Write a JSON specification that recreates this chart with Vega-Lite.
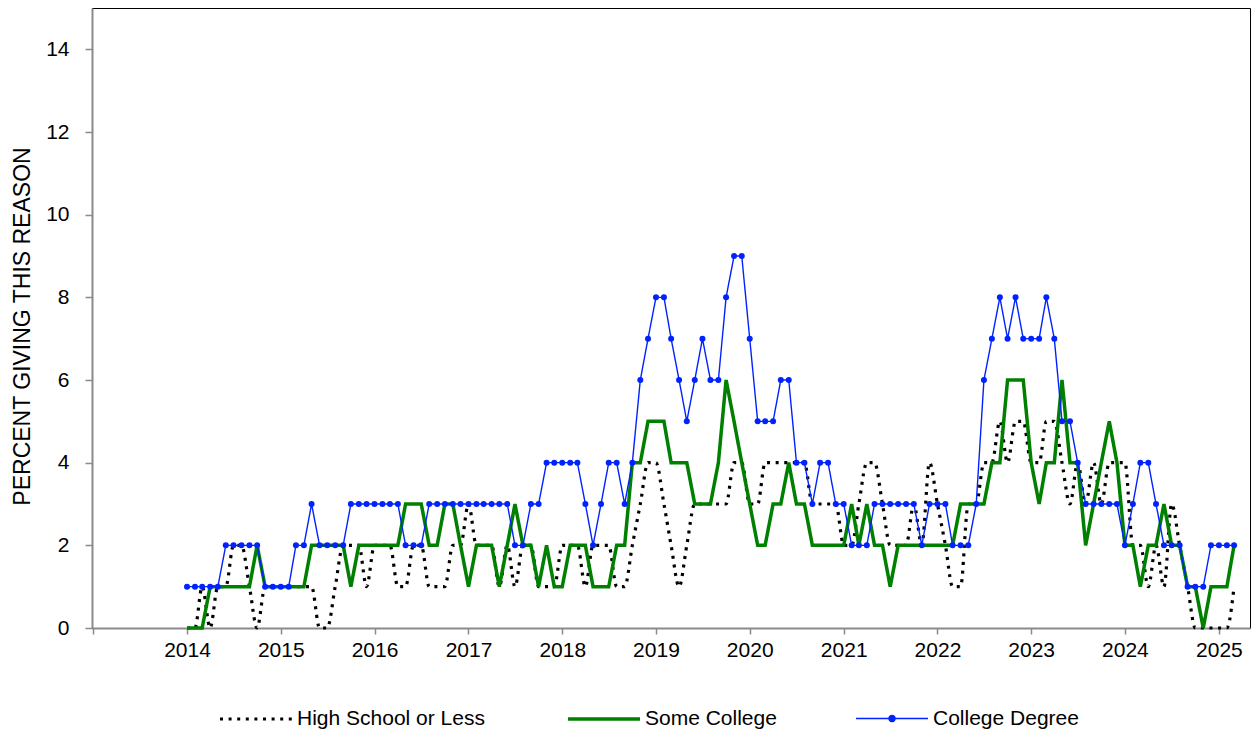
{
  "$schema": "https://vega.github.io/schema/vega-lite/v6.json",
  "width": 1158,
  "height": 620,
  "autosize": {"type": "none"},
  "padding": {"left": 92, "top": 8, "right": 6, "bottom": 104},
  "background": "white",
  "data": {"values": [
    {"d":"2014-01","hs":0,"sc":0,"cd":1},{"d":"2014-02","hs":0,"sc":0,"cd":1},{"d":"2014-03","hs":1,"sc":0,"cd":1},{"d":"2014-04","hs":0,"sc":1,"cd":1},
    {"d":"2014-05","hs":1,"sc":1,"cd":1},{"d":"2014-06","hs":1,"sc":1,"cd":2},{"d":"2014-07","hs":2,"sc":1,"cd":2},{"d":"2014-08","hs":2,"sc":1,"cd":2},
    {"d":"2014-09","hs":1,"sc":1,"cd":2},{"d":"2014-10","hs":0,"sc":2,"cd":2},{"d":"2014-11","hs":1,"sc":1,"cd":1},{"d":"2014-12","hs":1,"sc":1,"cd":1},
    {"d":"2015-01","hs":1,"sc":1,"cd":1},{"d":"2015-02","hs":1,"sc":1,"cd":1},{"d":"2015-03","hs":1,"sc":1,"cd":2},{"d":"2015-04","hs":1,"sc":1,"cd":2},
    {"d":"2015-05","hs":1,"sc":2,"cd":3},{"d":"2015-06","hs":0,"sc":2,"cd":2},{"d":"2015-07","hs":0,"sc":2,"cd":2},{"d":"2015-08","hs":1,"sc":2,"cd":2},
    {"d":"2015-09","hs":2,"sc":2,"cd":2},{"d":"2015-10","hs":2,"sc":1,"cd":3},{"d":"2015-11","hs":2,"sc":2,"cd":3},{"d":"2015-12","hs":1,"sc":2,"cd":3},
    {"d":"2016-01","hs":2,"sc":2,"cd":3},{"d":"2016-02","hs":2,"sc":2,"cd":3},{"d":"2016-03","hs":2,"sc":2,"cd":3},{"d":"2016-04","hs":1,"sc":2,"cd":3},
    {"d":"2016-05","hs":1,"sc":3,"cd":2},{"d":"2016-06","hs":2,"sc":3,"cd":2},{"d":"2016-07","hs":2,"sc":3,"cd":2},{"d":"2016-08","hs":1,"sc":2,"cd":3},
    {"d":"2016-09","hs":1,"sc":2,"cd":3},{"d":"2016-10","hs":1,"sc":3,"cd":3},{"d":"2016-11","hs":2,"sc":3,"cd":3},{"d":"2016-12","hs":2,"sc":2,"cd":3},
    {"d":"2017-01","hs":3,"sc":1,"cd":3},{"d":"2017-02","hs":2,"sc":2,"cd":3},{"d":"2017-03","hs":2,"sc":2,"cd":3},{"d":"2017-04","hs":2,"sc":2,"cd":3},
    {"d":"2017-05","hs":1,"sc":1,"cd":3},{"d":"2017-06","hs":2,"sc":2,"cd":3},{"d":"2017-07","hs":1,"sc":3,"cd":2},{"d":"2017-08","hs":2,"sc":2,"cd":2},
    {"d":"2017-09","hs":2,"sc":2,"cd":3},{"d":"2017-10","hs":1,"sc":1,"cd":3},{"d":"2017-11","hs":1,"sc":2,"cd":4},{"d":"2017-12","hs":1,"sc":1,"cd":4},
    {"d":"2018-01","hs":2,"sc":1,"cd":4},{"d":"2018-02","hs":2,"sc":2,"cd":4},{"d":"2018-03","hs":2,"sc":2,"cd":4},{"d":"2018-04","hs":1,"sc":2,"cd":3},
    {"d":"2018-05","hs":2,"sc":1,"cd":2},{"d":"2018-06","hs":2,"sc":1,"cd":3},{"d":"2018-07","hs":2,"sc":1,"cd":4},{"d":"2018-08","hs":1,"sc":2,"cd":4},
    {"d":"2018-09","hs":1,"sc":2,"cd":3},{"d":"2018-10","hs":2,"sc":4,"cd":4},{"d":"2018-11","hs":3,"sc":4,"cd":6},{"d":"2018-12","hs":4,"sc":5,"cd":7},
    {"d":"2019-01","hs":4,"sc":5,"cd":8},{"d":"2019-02","hs":3,"sc":5,"cd":8},{"d":"2019-03","hs":2,"sc":4,"cd":7},{"d":"2019-04","hs":1,"sc":4,"cd":6},
    {"d":"2019-05","hs":2,"sc":4,"cd":5},{"d":"2019-06","hs":3,"sc":3,"cd":6},{"d":"2019-07","hs":3,"sc":3,"cd":7},{"d":"2019-08","hs":3,"sc":3,"cd":6},
    {"d":"2019-09","hs":3,"sc":4,"cd":6},{"d":"2019-10","hs":3,"sc":6,"cd":8},{"d":"2019-11","hs":4,"sc":5,"cd":9},{"d":"2019-12","hs":4,"sc":4,"cd":9},
    {"d":"2020-01","hs":3,"sc":3,"cd":7},{"d":"2020-02","hs":3,"sc":2,"cd":5},{"d":"2020-03","hs":4,"sc":2,"cd":5},{"d":"2020-04","hs":4,"sc":3,"cd":5},
    {"d":"2020-05","hs":4,"sc":3,"cd":6},{"d":"2020-06","hs":4,"sc":4,"cd":6},{"d":"2020-07","hs":4,"sc":3,"cd":4},{"d":"2020-08","hs":4,"sc":3,"cd":4},
    {"d":"2020-09","hs":3,"sc":2,"cd":3},{"d":"2020-10","hs":3,"sc":2,"cd":4},{"d":"2020-11","hs":3,"sc":2,"cd":4},{"d":"2020-12","hs":3,"sc":2,"cd":3},
    {"d":"2021-01","hs":2,"sc":2,"cd":3},{"d":"2021-02","hs":2,"sc":3,"cd":2},{"d":"2021-03","hs":3,"sc":2,"cd":2},{"d":"2021-04","hs":4,"sc":3,"cd":2},
    {"d":"2021-05","hs":4,"sc":2,"cd":3},{"d":"2021-06","hs":3,"sc":2,"cd":3},{"d":"2021-07","hs":2,"sc":1,"cd":3},{"d":"2021-08","hs":2,"sc":2,"cd":3},
    {"d":"2021-09","hs":2,"sc":2,"cd":3},{"d":"2021-10","hs":3,"sc":2,"cd":3},{"d":"2021-11","hs":2,"sc":2,"cd":2},{"d":"2021-12","hs":4,"sc":2,"cd":3},
    {"d":"2022-01","hs":3,"sc":2,"cd":3},{"d":"2022-02","hs":2,"sc":2,"cd":3},{"d":"2022-03","hs":1,"sc":2,"cd":2},{"d":"2022-04","hs":1,"sc":3,"cd":2},
    {"d":"2022-05","hs":3,"sc":3,"cd":2},{"d":"2022-06","hs":3,"sc":3,"cd":3},{"d":"2022-07","hs":4,"sc":3,"cd":6},{"d":"2022-08","hs":4,"sc":4,"cd":7},
    {"d":"2022-09","hs":5,"sc":4,"cd":8},{"d":"2022-10","hs":4,"sc":6,"cd":7},{"d":"2022-11","hs":5,"sc":6,"cd":8},{"d":"2022-12","hs":5,"sc":6,"cd":7},
    {"d":"2023-01","hs":4,"sc":4,"cd":7},{"d":"2023-02","hs":4,"sc":3,"cd":7},{"d":"2023-03","hs":5,"sc":4,"cd":8},{"d":"2023-04","hs":5,"sc":4,"cd":7},
    {"d":"2023-05","hs":4,"sc":6,"cd":5},{"d":"2023-06","hs":3,"sc":4,"cd":5},{"d":"2023-07","hs":4,"sc":4,"cd":4},{"d":"2023-08","hs":3,"sc":2,"cd":3},
    {"d":"2023-09","hs":4,"sc":3,"cd":3},{"d":"2023-10","hs":3,"sc":4,"cd":3},{"d":"2023-11","hs":4,"sc":5,"cd":3},{"d":"2023-12","hs":4,"sc":4,"cd":3},
    {"d":"2024-01","hs":4,"sc":2,"cd":2},{"d":"2024-02","hs":2,"sc":2,"cd":3},{"d":"2024-03","hs":2,"sc":1,"cd":4},{"d":"2024-04","hs":1,"sc":2,"cd":4},
    {"d":"2024-05","hs":2,"sc":2,"cd":3},{"d":"2024-06","hs":1,"sc":3,"cd":2},{"d":"2024-07","hs":3,"sc":2,"cd":2},{"d":"2024-08","hs":2,"sc":2,"cd":2},
    {"d":"2024-09","hs":1,"sc":1,"cd":1},{"d":"2024-10","hs":0,"sc":1,"cd":1},{"d":"2024-11","hs":0,"sc":0,"cd":1},{"d":"2024-12","hs":0,"sc":1,"cd":2},
    {"d":"2025-01","hs":0,"sc":1,"cd":2},{"d":"2025-02","hs":0,"sc":1,"cd":2},{"d":"2025-03","hs":1,"sc":2,"cd":2}
  ]},
  "transform": [{"fold": ["hs", "sc", "cd"], "as": ["series", "value"]}],
  "encoding": {
    "x": {
      "field": "d", "type": "temporal", "title": null,
      "scale": {"type": "utc", "domain": [{"year": 2012, "month": 12, "date": 27, "utc": true}, {"year": 2025, "month": 5, "date": 2, "utc": true}]},
      "axis": {
        "values": [{"year":2013,"utc":true},{"year":2014,"utc":true},{"year":2015,"utc":true},{"year":2016,"utc":true},{"year":2017,"utc":true},{"year":2018,"utc":true},{"year":2019,"utc":true},{"year":2020,"utc":true},{"year":2021,"utc":true},{"year":2022,"utc":true},{"year":2023,"utc":true},{"year":2024,"utc":true},{"year":2025,"utc":true}],
        "labelExpr": "utcyear(datum.value) < 2014 ? '' : utcFormat(datum.value, '%Y')",
        "tickSize": 6, "labelPadding": 5, "labelFlush": false, "labelOverlap": false, "grid": false
      }
    },
    "y": {
      "field": "value", "type": "quantitative", "title": "PERCENT GIVING THIS REASON",
      "scale": {"domain": [0, 15], "nice": false},
      "axis": {"values": [0, 2, 4, 6, 8, 10, 12, 14], "tickSize": 7, "labelPadding": 16, "titlePadding": 11, "titleY": 318, "grid": false}
    }
  },
  "layer": [
    {
      "transform": [{"filter": "datum.series === 'hs'"}],
      "mark": {"type": "line", "interpolate": "monotone", "strokeCap": "butt"},
      "encoding": {
        "color": {"field": "series", "type": "nominal", "scale": {"domain": ["hs", "sc", "cd"], "range": ["#000000", "#008000", "#0022ff"]},
          "legend": {
            "labelExpr": "datum.label === 'hs' ? 'High School or Less' : datum.label === 'sc' ? 'Some College' : 'College Degree'",
            "labelLimit": 0,
            "encode": {"symbols": {"update": {
            "shape": {"signal": "datum.value === 'cd' ? 'M-1,0H1M-0.085,0A0.085,0.085,0,1,0,0.085,0A0.085,0.085,0,1,0,-0.085,0Z' : 'stroke'"},
            "fill": {"signal": "datum.value === 'cd' ? '#0022ff' : 'transparent'"}
          }}}}},
        "strokeDash": {"field": "series", "type": "nominal", "scale": {"type": "ordinal", "domain": ["hs", "sc", "cd"], "range": [[3, 5.6], [1, 0], [1, 0]]}},
        "strokeWidth": {"field": "series", "type": "nominal", "scale": {"type": "ordinal", "domain": ["hs", "sc", "cd"], "range": [3.2, 3.5, 1.4]}}
      }
    },
    {
      "transform": [{"filter": "datum.series !== 'hs'"}],
      "mark": {"type": "line", "interpolate": "linear", "strokeJoin": "miter"},
      "encoding": {
        "color": {"field": "series", "type": "nominal", "scale": {"domain": ["hs", "sc", "cd"], "range": ["#000000", "#008000", "#0022ff"]}},
        "strokeDash": {"field": "series", "type": "nominal", "scale": {"type": "ordinal", "domain": ["hs", "sc", "cd"], "range": [[3, 5.6], [1, 0], [1, 0]]}},
        "strokeWidth": {"field": "series", "type": "nominal", "scale": {"type": "ordinal", "domain": ["hs", "sc", "cd"], "range": [3.2, 3.5, 1.4]}}
      }
    },
    {
      "transform": [{"filter": "datum.series === 'cd'"}],
      "mark": {"type": "point", "filled": true, "size": 36, "opacity": 1, "color": "#0022ff"}
    }
  ],
  "config": {
    "font": "Liberation Sans",
    "view": {"stroke": "#000000", "strokeWidth": 1},
    "axis": {
      "domainColor": "#8a8a8a", "domainWidth": 2, "tickColor": "#8a8a8a", "tickWidth": 1.5,
      "labelFont": "Liberation Sans", "labelFontSize": 21, "labelColor": "#000000",
      "titleFont": "Liberation Sans", "titleFontSize": 23, "titleFontWeight": "normal", "titleColor": "#000000"
    },
    "legend": {
      "orient": "none", "legendX": 126, "legendY": 673, "direction": "horizontal", "columns": 3,
      "columnPadding": 76, "symbolType": "stroke", "symbolSize": 5184, "labelFont": "Liberation Sans",
      "labelFontSize": 21, "labelColor": "#000000", "labelOffset": 3, "labelLimit": 0, "title": null
    }
  }
}
